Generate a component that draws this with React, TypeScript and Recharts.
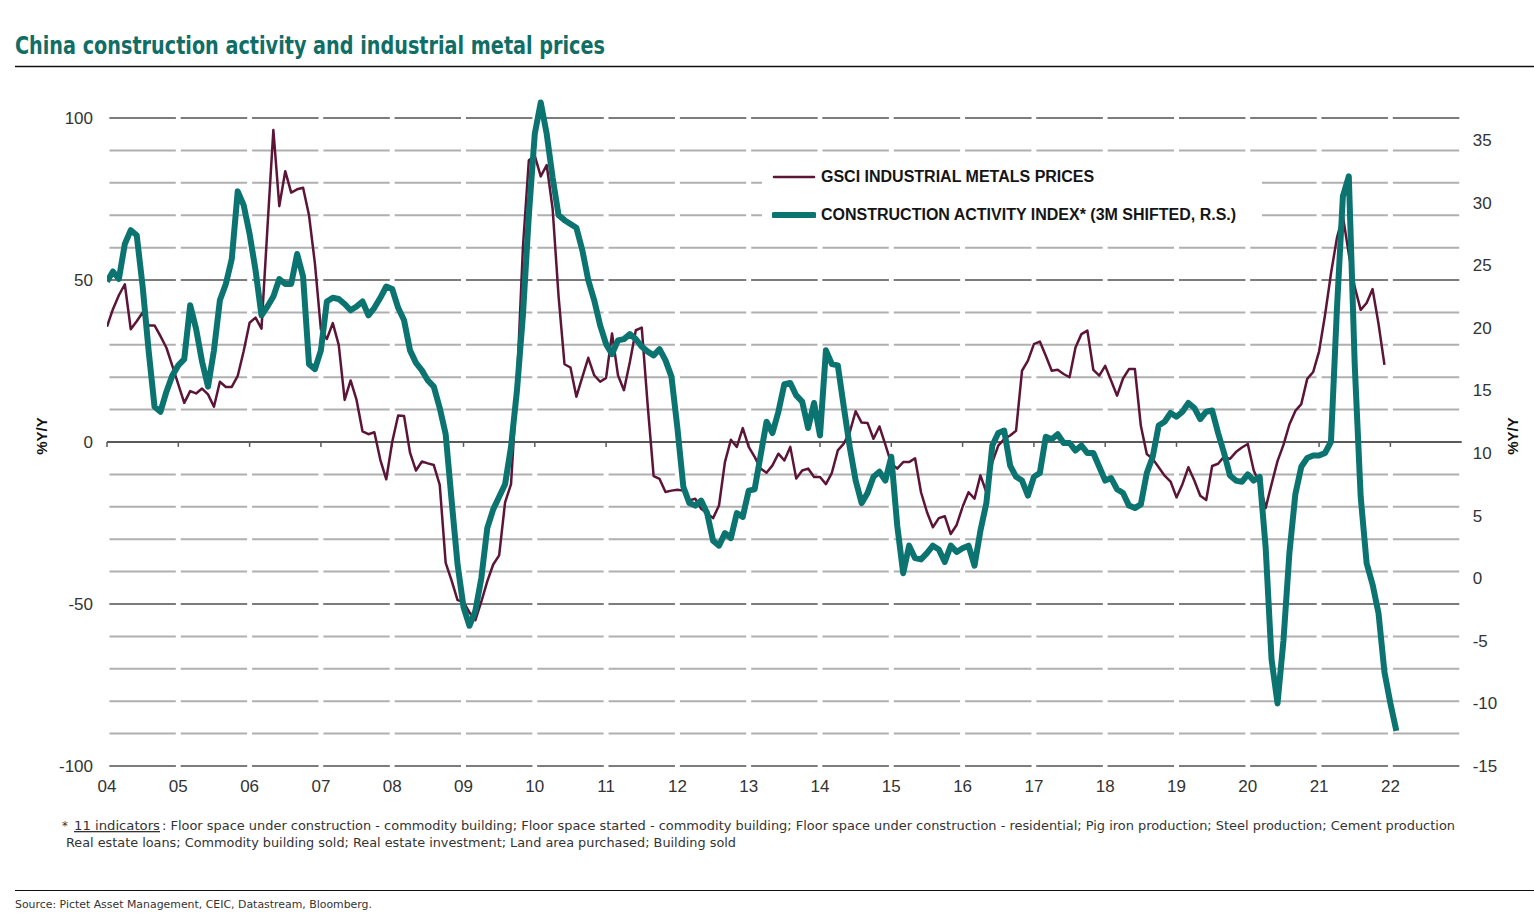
import React from "react";
import { LineChart, Line, XAxis, YAxis, CartesianGrid, ReferenceLine, Legend } from "recharts";

// monthly series, first point = Jan 2004
const START_YEAR = 2004;
const END_YEAR = 2023;
const YEAR_TICKS = [2004, 2005, 2006, 2007, 2008, 2009, 2010, 2011, 2012, 2013, 2014, 2015, 2016, 2017, 2018, 2019, 2020, 2021, 2022];
const LEFT_TICKS = [-100, -90, -80, -70, -60, -50, -40, -30, -20, -10, 0, 10, 20, 30, 40, 50, 60, 70, 80, 90, 100];
const LEFT_MAJOR = [-100, -50, 50, 100];
const RIGHT_TICKS = [-15, -10, -5, 0, 5, 10, 15, 20, 25, 30, 35];
const LEGEND_ORDER = ["metals", "construction"];

// GSCI industrial metals prices, %Y/Y (left axis), Jan 2004 - Dec 2021
const metals = [
  35.6, 41.0, 45.3, 48.7, 34.8, 37.3, 40.0, 36.0, 36.0, 32.7, 29.1, 23.5,
  17.8, 12.1, 15.7, 15.0, 16.5, 14.7, 10.9, 18.6, 17.0, 17.0, 20.4, 28.0,
  36.8, 38.4, 35.0, 66.0, 96.3, 72.8, 83.6, 77.0, 78.0, 78.5, 70.0, 55.0,
  34.8, 31.8, 36.7, 30.0, 13.0, 19.0, 13.0, 3.3, 2.4, 3.0, -5.5, -11.5,
  0.0, 8.2, 8.0, -3.3, -8.8, -6.0, -6.6, -7.1, -13.2, -37.3, -42.8, -48.8,
  -49.3, -52.6, -55.0, -49.3, -43.0, -37.8, -35.0, -18.6, -13.0, 18.0, 60.0, 87.0,
  88.3, 82.0, 85.5, 72.0, 45.0, 24.0, 23.0, 14.0, 20.0, 26.0, 20.6, 18.6,
  19.8, 33.5, 20.6, 16.0, 24.7, 34.5, 35.3, 11.3, -10.5, -11.4, -15.4, -15.0,
  -14.7, -15.0, -18.0, -17.5, -20.6, -22.0, -23.5, -19.6, -6.2, 0.7, -1.5, 4.3,
  -1.5, -4.6, -8.2, -9.5, -7.2, -3.6, -5.7, -1.5, -11.3, -8.8, -8.2, -10.8,
  -10.8, -13.0, -9.5, -2.6, -0.5, 3.0, 9.5, 6.0, 5.9, 1.0, 4.8, -0.8,
  -6.7, -8.2, -6.2, -6.2, -5.0, -15.5, -21.6, -26.3, -23.5, -22.9, -28.4, -25.6,
  -20.0, -15.5, -17.5, -10.3, -15.5, -6.3, -1.1, 0.9, 2.0, 3.5, 22.0, 25.1,
  30.2, 31.0, 26.6, 22.0, 22.3, 21.0, 20.0, 29.2, 33.3, 34.4, 22.3, 20.5,
  23.5, 18.9, 14.3, 19.6, 22.5, 22.5, 5.0, -3.7, -5.2, -7.8, -10.4, -12.2,
  -17.1, -13.0, -7.8, -11.9, -16.6, -17.9, -7.4, -6.7, -4.5, -5.2, -3.1, -1.7,
  -0.6, -8.8, -13.0, -20.4, -13.0, -5.9, -0.9, 5.4, 9.6, 11.7, 19.5, 21.6,
  28.0, 39.2, 52.0, 63.0, 69.8, 58.0, 47.8, 40.8, 42.9, 47.2, 36.5, 23.8,
];

// Construction activity index, 3M shifted, %Y/Y (right axis), Jan 2004 - Feb 2022
const construction = [
  23.7, 24.5, 23.9, 26.7, 27.8, 27.4, 23.3, 18.2, 13.7, 13.3, 14.9, 16.2,
  17.0, 17.5, 21.8, 19.9, 17.3, 15.3, 18.2, 22.2, 23.5, 25.5, 30.9, 29.8,
  27.5, 24.6, 21.0, 21.7, 22.5, 23.9, 23.5, 23.5, 25.9, 24.1, 17.1, 16.7,
  18.2, 22.1, 22.4, 22.3, 21.9, 21.4, 21.7, 22.1, 21.0, 21.6, 22.4, 23.3,
  23.1, 21.6, 20.6, 18.2, 17.2, 16.6, 15.8, 15.3, 13.6, 11.5, 6.2, 1.1,
  -2.3, -3.8, -2.6, 0.0, 4.0, 5.5, 6.5, 7.5, 10.5, 15.0, 21.0, 29.0,
  35.5, 38.0, 35.5, 32.0, 29.0, 28.6, 28.3, 28.0, 26.2, 23.8, 22.2, 20.2,
  18.7, 17.9, 19.0, 19.1, 19.5, 19.1, 18.5, 18.1, 17.8, 18.3, 17.4, 16.1,
  12.0, 7.3, 6.0, 5.8, 6.2, 5.2, 3.0, 2.6, 3.6, 3.2, 5.2, 4.9,
  7.0, 7.1, 9.8, 12.5, 11.6, 13.3, 15.5, 15.6, 14.6, 14.1, 12.0, 14.0,
  11.4, 18.2, 17.1, 17.0, 13.7, 10.5, 7.8, 6.0, 6.8, 8.1, 8.5, 7.8,
  9.7, 4.2, 0.4, 2.6, 1.6, 1.5, 2.0, 2.6, 2.3, 1.3, 2.6, 2.1,
  2.4, 2.6, 1.0, 3.8, 6.0, 10.6, 11.6, 11.8, 9.0, 8.1, 7.8, 6.6,
  8.1, 8.4, 11.3, 11.1, 11.5, 10.8, 10.8, 10.2, 10.6, 10.0, 10.0, 8.9,
  7.8, 8.0, 7.1, 6.8, 5.8, 5.6, 5.9, 8.4, 9.7, 12.2, 12.5, 13.2,
  12.9, 13.3, 14.0, 13.6, 12.7, 13.3, 13.4, 11.6, 10.0, 8.2, 7.8, 7.7,
  8.3, 7.8, 8.1, 2.5, -6.5, -10.0, -5.0, 2.0, 6.7, 8.9, 9.6, 9.8,
  9.8, 10.0, 10.9, 21.5, 30.5, 32.1, 17.0, 6.5, 1.2, -0.5, -2.8, -7.5,
  -10.0, -12.2,
];

const data = construction.map((c, i) => ({
  t: START_YEAR + i / 12,
  metals: metals[i],
  construction: c,
}));

const FONT = '"Liberation Sans", Arial, sans-serif';
const NARROW = '"Liberation Sans Narrow", "DejaVu Sans Condensed", "Liberation Sans", sans-serif';
const PURPLE = "#5d1537";
const TEAL = "#0c7470";
const DASH = "66.3 5";
const DASH_OFFSET = 68.8;

const gridLine = (p: any) => (
  <line
    key={p.key}
    x1={p.x1}
    y1={p.y1}
    x2={p.x2}
    y2={p.y2}
    stroke="#b0b0b0"
    strokeWidth={2}
    strokeDasharray={DASH}
    strokeDashoffset={DASH_OFFSET}
  />
);

const majorLine = (p: any) => (
  <line
    x1={p.x1}
    y1={p.y1}
    x2={p.x2}
    y2={p.y2}
    stroke="#7c7c7c"
    strokeWidth={2}
    strokeDasharray={DASH}
    strokeDashoffset={DASH_OFFSET}
  />
);

const renderLegend = (props: any) => {
  const items = [...(props.payload || [])].sort(
    (a: any, b: any) => LEGEND_ORDER.indexOf(a.dataKey) - LEGEND_ORDER.indexOf(b.dataKey)
  );
  return (
    <div style={{ paddingLeft: 10 }}>
      {items.map((e: any) => (
        <div key={e.value} style={{ display: "flex", alignItems: "center", height: 38 }}>
          <svg width={44} height={10}>
            <line x1={2} x2={42} y1={5} y2={5} stroke={e.color} strokeWidth={e.payload?.strokeWidth} strokeLinecap="round" />
          </svg>
          <span style={{ marginLeft: 5, fontFamily: FONT, fontWeight: 700, fontSize: 16, color: "#151515", whiteSpace: "nowrap" }}>
            {e.value}
          </span>
        </div>
      ))}
    </div>
  );
};

export default function App() {
  return (
    <div style={{ position: "relative", width: 1534, height: 919, background: "#fff" }}>
      <style>{`body{margin:0}`}</style>
      <svg width={1534} height={919} style={{ position: "absolute", left: 0, top: 0 }}>
        <text x={15} y={54} fill="#106e66" fontFamily={NARROW} fontWeight={700} fontSize={25} textLength={590} lengthAdjust="spacingAndGlyphs">
          China construction activity and industrial metal prices
        </text>
        <line x1={15} x2={1534} y1={66.5} y2={66.5} stroke="#111" strokeWidth={1.5} />
        <text transform="translate(47,436) rotate(-90)" textAnchor="middle" fontFamily={FONT} fontWeight={700} fontSize={15} fill="#111">%Y/Y</text>
        <text transform="translate(1518,436) rotate(-90)" textAnchor="middle" fontFamily={FONT} fontWeight={700} fontSize={15} fill="#111">%Y/Y</text>
        <text x={62} y={830} fontFamily={NARROW} fontSize={13} fill="#333">*</text>
        <text x={74} y={830} fontFamily={NARROW} fontSize={13} fill="#333" textDecoration="underline" textLength={86} lengthAdjust="spacingAndGlyphs">11 indicators</text>
        <text x={162} y={830} fontFamily={NARROW} fontSize={13} fill="#333" textLength={1293} lengthAdjust="spacingAndGlyphs">
          : Floor space under construction - commodity building; Floor space started - commodity building; Floor space under construction - residential; Pig iron production; Steel production; Cement production
        </text>
        <text x={66} y={847} fontFamily={NARROW} fontSize={13} fill="#333" textLength={670} lengthAdjust="spacingAndGlyphs">
          Real estate loans; Commodity building sold; Real estate investment; Land area purchased;  Building sold
        </text>
        <line x1={15} x2={1534} y1={890.5} y2={890.5} stroke="#111" strokeWidth={1} />
        <text x={15} y={908} fontFamily={NARROW} fontSize={11} fill="#333" textLength={357} lengthAdjust="spacingAndGlyphs">
          Source: Pictet Asset Management, CEIC, Datastream, Bloomberg.
        </text>
      </svg>
      <div style={{ position: "absolute", left: 0, top: 0 }}>
        <LineChart width={1534} height={820} data={data} margin={{ top: 98.6, right: 0, bottom: 24, left: 0 }}>
          <CartesianGrid yAxisId="left" vertical={false} horizontal={gridLine} horizontalValues={LEFT_TICKS} />
          <XAxis
            dataKey="t"
            type="number"
            domain={[START_YEAR, END_YEAR]}
            ticks={YEAR_TICKS}
            interval={0}
            allowDataOverflow
            tickFormatter={(v: number) => String(v).slice(2)}
            axisLine={false}
            tickLine={false}
            height={30}
            tickMargin={8}
            tick={{ fontSize: 17, fill: "#333", fontFamily: FONT }}
          />
          <YAxis
            yAxisId="left"
            domain={[-100, 106]}
            ticks={LEFT_TICKS}
            interval={0}
            allowDataOverflow
            tickFormatter={(v: number) => (v % 50 === 0 ? String(v) : "")}
            axisLine={false}
            tickLine={false}
            width={107}
            tickMargin={8}
            tick={{ fontSize: 17, fill: "#333", fontFamily: FONT }}
          />
          <YAxis
            yAxisId="right"
            orientation="right"
            domain={[-15, 38.31]}
            ticks={RIGHT_TICKS}
            interval={0}
            allowDataOverflow
            axisLine={false}
            tickLine={false}
            width={72.3}
            tickMargin={5}
            tick={{ fontSize: 17, fill: "#333", fontFamily: FONT }}
          />
          {LEFT_MAJOR.map((v) => (
            <ReferenceLine key={v} yAxisId="left" y={v} shape={majorLine} />
          ))}
          <ReferenceLine yAxisId="left" y={0} stroke="#5a5a5a" strokeWidth={2} />
          {YEAR_TICKS.map((yr) => (
            <ReferenceLine
              key={`tk${yr}`}
              yAxisId="left"
              segment={[{ x: yr, y: 0 }, { x: yr, y: -1.5 }]}
              stroke="#5a5a5a"
              strokeWidth={1.5}
            />
          ))}
          <Line
            yAxisId="left"
            type="linear"
            dataKey="metals"
            name="GSCI INDUSTRIAL METALS PRICES"
            stroke={PURPLE}
            strokeWidth={2.5}
            strokeLinejoin="round"
            dot={false}
            activeDot={false}
            isAnimationActive={false}
          />
          <Line
            yAxisId="right"
            type="linear"
            dataKey="construction"
            name="CONSTRUCTION ACTIVITY INDEX* (3M SHIFTED, R.S.)"
            stroke={TEAL}
            strokeWidth={6}
            strokeLinejoin="round"
            dot={false}
            activeDot={false}
            isAnimationActive={false}
          />
          <Legend
            layout="vertical"
            align="center"
            verticalAlign="middle"
            content={renderLegend}
            wrapperStyle={{ left: 762, top: 158, width: 500, height: 78, background: "#fff" }}
          />
        </LineChart>
      </div>
    </div>
  );
}
